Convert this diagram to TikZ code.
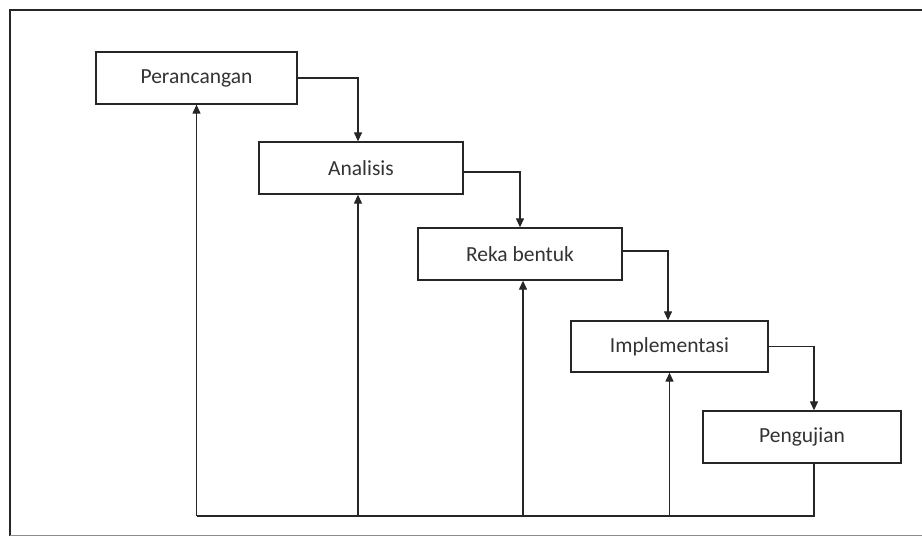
\documentclass[tikz,border=0pt]{standalone}
\usepackage{fontspec}
\setmainfont{Carlito}
\usetikzlibrary{arrows.meta}
\begin{document}
\begin{tikzpicture}[x=1pt,y=-1pt,
  stage/.style={draw=black!85,line width=1.3pt,fill=white,inner sep=0pt,
    minimum height=52pt,font=\fontsize{21.5}{23}\selectfont,text=black!80},
  link/.style={draw=black!85,line width=1.2pt},
  arr/.style={link,-{Triangle[length=9pt,width=8pt]}}]
\useasboundingbox (0,0) rectangle (922,536);
\fill[white] (0,0) rectangle (922,536);
% outer frame
\draw[line width=2pt,black!85] (922,10) -- (10,10) -- (10,536);
\draw[line width=1pt,black!45] (10,535) -- (922,535);
% stages
\node[stage,minimum width=201pt] (per) at (196.5,78) {Perancangan};
\node[stage,minimum width=204pt] (ana) at (361,168) {Analisis};
\node[stage,minimum width=204pt] (rek) at (520,254) {Reka bentuk};
\node[stage,minimum width=197pt,minimum height=51pt] (imp) at (669.5,346.5) {Implementasi};
\node[stage,minimum width=198pt] (pen) at (802,437) {Pengujian};
% forward flow
\draw[arr] (per.east) -| ([xshift=-3pt]ana.north);
\draw[arr] ([yshift=-4pt]ana.east) -| (rek.north);
\draw[arr] ([yshift=3pt]rek.east) -| ([xshift=-1.5pt]imp.north);
\draw[arr] (imp.east) -| ([xshift=12pt]pen.north);
% feedback
\coordinate (fb) at (0,516);
\draw[link] ([xshift=12pt]pen.south) |- (per.south |- fb);
\draw[arr] (per.south |- fb) -- (per.south);
\draw[arr] ([xshift=-3pt]ana.south |- fb) -- ([xshift=-3pt]ana.south);
\draw[arr] ([xshift=3pt]rek.south |- fb) -- ([xshift=3pt]rek.south);
\draw[arr] (imp.south |- fb) -- (imp.south);
\end{tikzpicture}
\end{document}
